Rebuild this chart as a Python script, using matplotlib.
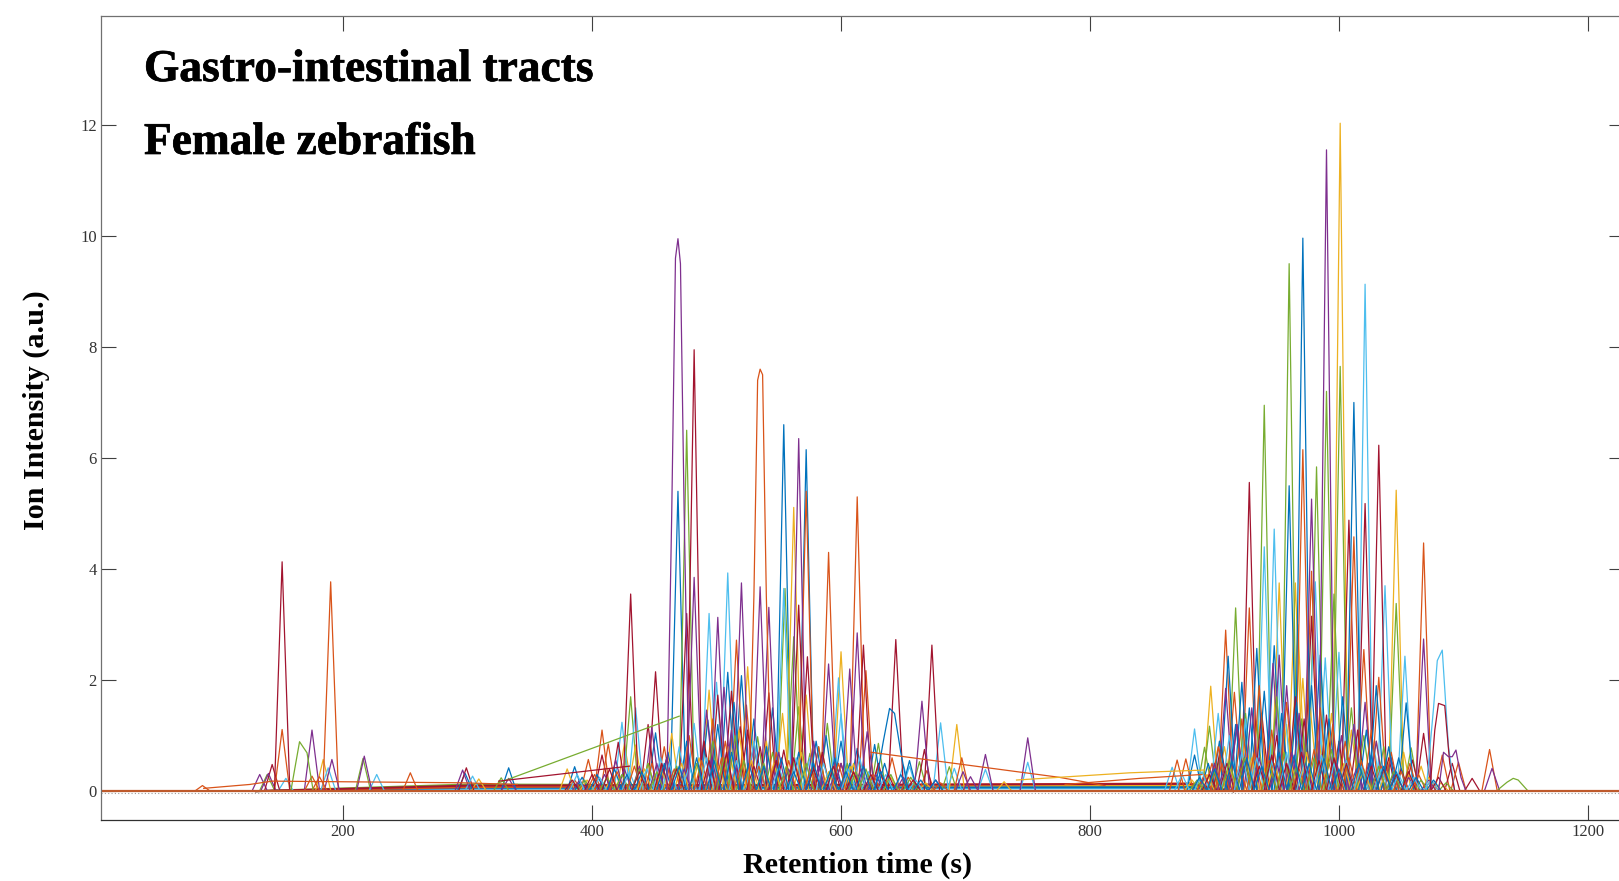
import matplotlib
matplotlib.use('Agg')
import matplotlib.pyplot as plt
import matplotlib.patheffects as pe

# apex retention time / apex height of the peaks, one pair of lists per line colour
blue_rt = [298, 333, 386, 469, 554, 572, 451, 493, 509, 520, 490, 530, 545, 588, 600, 613, 627, 655, 461, 476, 501, 514, 540, 566, 580, 595, 607, 635,
           884, 911, 922, 934, 948, 960, 971, 985, 1012, 1054, 895, 904, 917, 928, 940, 954, 966, 978, 992, 1003, 1022, 1030, 1040, 1048]
blue_h = [.32, .42, .44, 5.4, 6.6, 6.15, 1.05, 1.28, 2.14, 2.08, .8, 1.3, 1.5, 1.0, .9, .77, .84, .55, .7, .9, 1.2, 1.6, .8, .7, .9, .6, .5, .5,
          .65, 2.43, 1.96, 2.57, 2.62, 5.5, 9.96, 2.45, 7.0, 1.59, .5, .9, 1.2, 1.5, 1.8, 1.4, 1.6, 1.9, 1.3, 1.7, 1.1, 1.9, .8, .6]

orange_rt = [87, 151, 190, 175, 181, 254, 397, 408, 413, 458, 516, 524, 572, 590, 613, 620, 641, 669, 697, 478, 497, 507, 548, 582, 630,
             870, 877, 909, 916, 928, 971, 978, 1012, 1020, 1032, 1068, 1083, 1096, 1121, 898, 903, 922, 936, 946, 958, 985, 995, 1005, 1026, 1042, 1057]
orange_h = [.1, 1.11, 3.77, .27, .26, .33, .57, 1.1, .85, .8, 2.72, 1.55, 5.4, 4.3, 5.3, 2.17, .6, .37, .6, 1.0, 1.3, .9, .7, .8, .45,
            .56, .58, 2.9, 1.78, 3.3, 6.15, 3.96, 4.58, 2.55, 2.05, 4.47, .65, .52, .75, .5, .8, 1.3, 1.9, 1.1, 1.6, 1.5, 1.2, .9, 1.1, .7, .5]

yellow_rt = [184, 309, 380, 426, 435, 464, 494, 525, 553, 562, 572, 600, 693, 731, 445, 510, 518, 540, 585, 610,
             897, 952, 965, 967, 971, 1001, 1046, 1066, 908, 925, 937, 943, 958, 977, 984, 994, 1010, 1030, 1052]
yellow_h = [.57, .22, .4, .86, .83, 1.04, 1.82, 2.24, 1.4, 5.11, 1.73, 2.51, 1.2, .17, .5, .8, 1.1, .9, .7, .5,
            1.89, 3.75, 3.75, 3.0, 2.03, 12.03, 5.42, .45, .8, 1.0, 1.3, .7, 1.2, 1.5, .9, 1.4, 1.1, .9, .7]

purple_rt = [133, 140, 175, 191, 217, 296, 333, 419, 448, 482, 492, 501, 506, 520, 530, 535, 542, 566, 590, 607, 613, 621, 665, 698, 704, 716, 750, 460, 512, 550, 578, 600,
             909, 947, 952, 978, 990, 1021, 1068, 1123, 900, 918, 930, 958, 968, 1002, 1012, 1030, 1042]
purple_h = [.3, .32, 1.1, .57, .63, .38, .23, .56, 1.15, 3.85, 1.46, 3.13, 1.87, 3.75, .83, 3.68, 3.31, 6.35, 2.29, 2.2, 2.85, 1.07, 1.62, .35, .26, .66, .96, .6, 1.1, .7, .9, .5,
            1.85, 2.3, 2.45, 5.26, 11.55, 1.6, 2.74, .41, .5, 1.2, 1.5, 1.9, 1.4, 1.0, 1.2, .9, .6]

green_rt = [139, 216, 327, 431, 476, 533, 555, 562, 566, 575, 589, 630, 663, 687, 445, 497, 515, 545, 582, 605,
            892, 896, 917, 940, 960, 982, 990, 996, 1001, 1046, 1058, 905, 925, 934, 950, 970, 1010, 1020, 1036]
green_h = [.3, .59, .24, 1.7, 6.5, .98, 3.65, 2.78, 1.52, .68, 1.22, .86, .53, .44, .5, .9, 1.0, .7, .8, .5,
           .79, 1.17, 3.3, 6.95, 9.5, 5.84, 7.2, 3.55, 7.65, 3.38, .78, .7, 1.4, 1.2, 1.7, 1.3, 1.5, 1.0, .8]

sky_rt = [154, 188, 227, 304, 424, 435, 482, 494, 500, 509, 554, 598, 600, 650, 655, 680, 691, 750, 716, 455, 470, 530, 575, 615,
          866, 884, 903, 940, 948, 981, 989, 1000, 1021, 1037, 1053, 912, 925, 956, 968, 1012, 1028]
sky_h = [.23, .42, .3, .27, 1.24, 1.5, 1.22, 3.2, 1.96, 3.93, 3.65, 2.04, 1.39, .47, .45, 1.23, .41, .52, .39, .6, .8, .9, .6, .6,
         .43, 1.12, 1.4, 4.4, 4.72, 3.77, 2.4, 2.5, 9.13, 3.7, 2.43, 1.0, 1.3, 1.6, 1.1, 1.2, .8]

crimson_rt = [143, 151, 299, 408, 421, 431, 445, 451, 476, 482, 501, 512, 519, 525, 542, 554, 566, 573, 618, 644, 667, 673, 460, 490, 535, 585, 600, 630,
              928, 978, 990, 1008, 1021, 1032, 1059, 1068, 1091, 1107, 905, 918, 938, 950, 965, 972, 1000, 1015, 1040, 1050]
crimson_h = [.48, 4.13, .42, .65, .88, 3.55, 1.2, 2.15, 3.2, 7.95, 1.73, 1.8, 1.16, 1.1, 1.77, .74, 3.35, 2.42, 2.63, 2.73, .75, 2.63, .6, .9, .8, .7, .5, .5,
              5.56, 3.15, 1.37, 4.88, 5.18, 6.23, .56, 1.04, .5, .23, .8, 1.2, 1.4, 1.0, 1.7, 1.3, .9, 1.1, .6, .4]

# the small peaks that crowd the foot of both clusters
small_blue_rt = [392, 404, 418, 428, 440, 458, 470, 484, 498, 512, 526, 538, 552, 562, 578, 592, 604, 618, 632, 648, 664, 676, 888, 900, 914, 926, 938, 952, 964, 976, 988, 1000, 1016, 1026, 1036, 1046, 1062, 1076]
small_blue_h = [.25, .3, .4, .3, .35, .5, .45, .6, .55, .7, .5, .45, .6, .35, .5, .4, .35, .45, .35, .3, .2, .2, .25, .4, .55, .6, .45, .7, .65, .5, .6, .4, .5, .65, .45, .35, .25, .2]
small_orange_rt = [386, 402, 420, 434, 448, 466, 488, 504, 520, 534, 558, 576, 598, 610, 626, 654, 680, 892, 906, 920, 932, 944, 956, 968, 980, 992, 1008, 1018, 1034, 1050, 1064, 1074]
small_orange_h = [.2, .3, .35, .45, .5, .4, .55, .6, .5, .45, .55, .4, .5, .35, .3, .25, .15, .3, .5, .45, .7, .55, .65, .4, .75, .5, .6, .55, .45, .35, .3, .2]
small_yellow_rt = [396, 416, 442, 456, 472, 486, 502, 528, 546, 568, 590, 608, 622, 640, 668, 882, 894, 912, 930, 948, 962, 974, 988, 1004, 1020, 1038, 1056, 1072, 1082]
small_yellow_h = [.2, .25, .4, .35, .5, .6, .45, .55, .5, .7, .35, .45, .3, .25, .15, .2, .3, .45, .6, .5, .45, .7, .6, .5, .4, .35, .3, .25, .15]
small_purple_rt = [390, 410, 426, 438, 452, 474, 496, 516, 548, 558, 582, 596, 616, 628, 650, 676, 892, 908, 922, 936, 950, 962, 974, 986, 998, 1014, 1024, 1044, 1056, 1072]
small_purple_h = [.2, .3, .4, .45, .5, .4, .6, .5, .55, .4, .45, .35, .4, .3, .25, .2, .25, .4, .55, .6, .5, .7, .45, .65, .5, .4, .5, .3, .25, .2]
small_green_rt = [394, 412, 424, 438, 452, 468, 484, 506, 522, 538, 556, 572, 592, 612, 620, 640, 656, 886, 900, 912, 924, 944, 956, 966, 980, 994, 1006, 1018, 1032, 1044, 1066, 1086]
small_green_h = [.2, .25, .3, .4, .35, .45, .5, .6, .55, .5, .45, .5, .4, .35, .4, .3, .25, .2, .35, .55, .6, .5, .7, .45, .6, .75, .5, .4, .45, .35, .2, .15]
small_sky_rt = [388, 406, 430, 444, 462, 478, 492, 516, 534, 550, 564, 586, 606, 622, 636, 660, 874, 890, 910, 922, 934, 946, 958, 972, 986, 996, 1006, 1018, 1034, 1048, 1060, 1074]
small_sky_h = [.3, .25, .35, .4, .5, .45, .6, .55, .5, .45, .6, .5, .4, .35, .3, .2, .3, .35, .5, .7, .6, .55, .7, .5, .65, .5, .55, .45, .4, .3, .25, .2]
small_crimson_rt = [384, 400, 414, 438, 456, 468, 494, 508, 530, 548, 562, 578, 594, 610, 624, 638, 658, 896, 910, 924, 936, 946, 958, 970, 984, 996, 1006, 1026, 1036, 1046, 1056, 1080]
small_crimson_h = [.2, .3, .4, .35, .5, .4, .55, .7, .45, .55, .6, .4, .45, .35, .3, .3, .2, .3, .5, .6, .45, .65, .5, .7, .55, .6, .5, .45, .4, .3, .35, .25]

# traces that do not look like a plain peak: flat tops, shoulders and long straight runs
green_run_rt = [158, 165, 171, 176]
green_run_y = [0, .89, .69, 0]
blue_wide_rt = [627, 634, 639, 643, 648, 654]
blue_wide_y = [0, .9, 1.49, 1.4, .7, 0]
purple_top_rt = [460, 464, 467, 469, 471, 474, 478]
purple_top_y = [0, 5.0, 9.6, 9.95, 9.5, 5.0, 0]
orange_top_rt = [526, 530, 533, 535, 537, 540, 544]
orange_top_y = [0, 3.5, 7.4, 7.6, 7.5, 3.5, 0]
sky_flat_rt = [1070, 1076, 1079, 1083, 1088, 1093]
sky_flat_y = [0, 1.5, 2.35, 2.54, .8, 0]
crimson_flat_rt = [1073, 1077, 1080, 1085, 1089, 1093]
crimson_flat_y = [0, 1.1, 1.58, 1.54, .5, 0]
purple_flat_rt = [1080, 1084, 1088, 1091, 1094, 1098, 1102]
purple_flat_y = [0, .7, .62, .62, .74, .25, 0]
green_hump_rt = [1128, 1135, 1140, 1144, 1152]
green_hump_y = [.03, .16, .23, .2, 0]
green_line_rt = [325, 470]
green_line_y = [.15, 1.35]
crimson_line_rt = [325, 430]
crimson_line_y = [.18, .45]
orange_line_rt = [624, 775, 812]
orange_line_y = [.7, .25, .1]
yellow_line_rt = [741, 832, 892]
yellow_line_y = [.2, .33, .38]
orange_low_rt = [88, 125, 143, 296, 340]
orange_low_y = [.05, .12, .18, .15, .12]
orange_low2_rt = [780, 840, 890]
orange_low2_y = [.12, .23, .3]

# low plateaus under the peaks
low_rt = [130, 300, 880, 915]
low_purple_y = [0, .08, .1, 0]
low_crimson_y = [0, .1, .13, 0]
low_blue_y = [0, .06, .07, 0]
low_green_y = [0, .12, .09, 0]
low_sky_y = [0, .04, .05, 0]
low_yellow_y = [0, .05, .11, 0]
low_orange_y = [0, .07, .14, 0]

xticks = [200, 400, 600, 800, 1000, 1200]
yticks = [0, 2, 4, 6, 8, 10, 12]

BLUE, ORANGE, YELLOW, PURPLE = '#0072BD', '#D95319', '#EDB120', '#7E2F8E'
GREEN, SKY, CRIMSON = '#77AC30', '#4DBEEE', '#A2142F'
LW = 0.9
HALF = 6.2

plt.rcParams['font.family'] = ['Liberation Serif', 'DejaVu Serif']

fig = plt.figure(figsize=(16.19, 8.81), dpi=100)
# the right border falls just outside the picture
ax = fig.add_axes([101 / 1619, 1 - 820 / 881, (1624 - 101) / 1619, (820 - 15.5) / 881])

# low plateaus first
for color, y in [(PURPLE, low_purple_y), (GREEN, low_green_y), (YELLOW, low_yellow_y), (SKY, low_sky_y),
                 (BLUE, low_blue_y), (ORANGE, low_orange_y), (CRIMSON, low_crimson_y)]:
    ax.plot(low_rt, y, color=color, lw=1.4)

groups = [(BLUE, blue_rt, blue_h), (ORANGE, orange_rt, orange_h), (YELLOW, yellow_rt, yellow_h),
          (PURPLE, purple_rt, purple_h), (GREEN, green_rt, green_h), (SKY, sky_rt, sky_h),
          (CRIMSON, crimson_rt, crimson_h)]
small_groups = [(BLUE, small_blue_rt, small_blue_h), (ORANGE, small_orange_rt, small_orange_h),
                (YELLOW, small_yellow_rt, small_yellow_h), (PURPLE, small_purple_rt, small_purple_h),
                (GREEN, small_green_rt, small_green_h), (SKY, small_sky_rt, small_sky_h),
                (CRIMSON, small_crimson_rt, small_crimson_h)]

# colours take turns like the default matlab line order
for grp in [groups, small_groups]:
    longest = max(len(g[1]) for g in grp)
    for i in range(longest):
        for color, rt, h in grp:
            if i < len(rt):
                ax.plot([rt[i] - HALF, rt[i], rt[i] + HALF], [0, h[i], 0], color=color, lw=LW)

for color, x, y in [(GREEN, green_run_rt, green_run_y), (BLUE, blue_wide_rt, blue_wide_y),
                    (PURPLE, purple_top_rt, purple_top_y), (ORANGE, orange_top_rt, orange_top_y),
                    (SKY, sky_flat_rt, sky_flat_y), (CRIMSON, crimson_flat_rt, crimson_flat_y),
                    (PURPLE, purple_flat_rt, purple_flat_y), (GREEN, green_hump_rt, green_hump_y),
                    (GREEN, green_line_rt, green_line_y), (CRIMSON, crimson_line_rt, crimson_line_y),
                    (ORANGE, orange_line_rt, orange_line_y), (YELLOW, yellow_line_rt, yellow_line_y),
                    (ORANGE, orange_low_rt, orange_low_y), (ORANGE, orange_low2_rt, orange_low2_y)]:
    ax.plot(x, y, color=color, lw=LW)

# baseline, everything sits on it
ax.axhline(-0.03, color='#999999', lw=0.8, ls=(0, (1, 2)))
ax.axhline(0, color='#BE5A2C', lw=1.6)

ax.set_xlim(5.5, 1229)
ax.set_ylim(-0.52, 13.97)
ax.set_xticks(xticks)
ax.set_yticks(yticks)
ax.tick_params(direction='in', length=10.5, width=0.8, color='#404040', labelcolor='#333333',
               labelsize=12, top=True, right=True, pad=3)
for s in ax.spines.values():
    s.set_linewidth(0.9)
ax.spines['left'].set_color('#707070')
ax.spines['top'].set_color('#707070')
ax.spines['bottom'].set_color('#303030')

heavy = [pe.withStroke(linewidth=0.5, foreground='black')]
fig.text(144 / 1619, 1 - 81 / 881, 'Gastro-intestinal tracts', fontsize=32.7, fontweight='bold', color='black', path_effects=heavy)
fig.text(144 / 1619, 1 - 154 / 881, 'Female zebrafish', fontsize=32.7, fontweight='bold', color='black', path_effects=heavy)
fig.text(858 / 1619, 1 - 865 / 881, 'Retention time (s)', fontsize=21.7, fontweight='bold', ha='center', va='center')
fig.text(36 / 1619, 1 - 410 / 881, 'Ion Intensity (a.u.)', fontsize=21.7, fontweight='bold', ha='center', va='center', rotation=90)

fig.savefig('out.png', dpi=100)
